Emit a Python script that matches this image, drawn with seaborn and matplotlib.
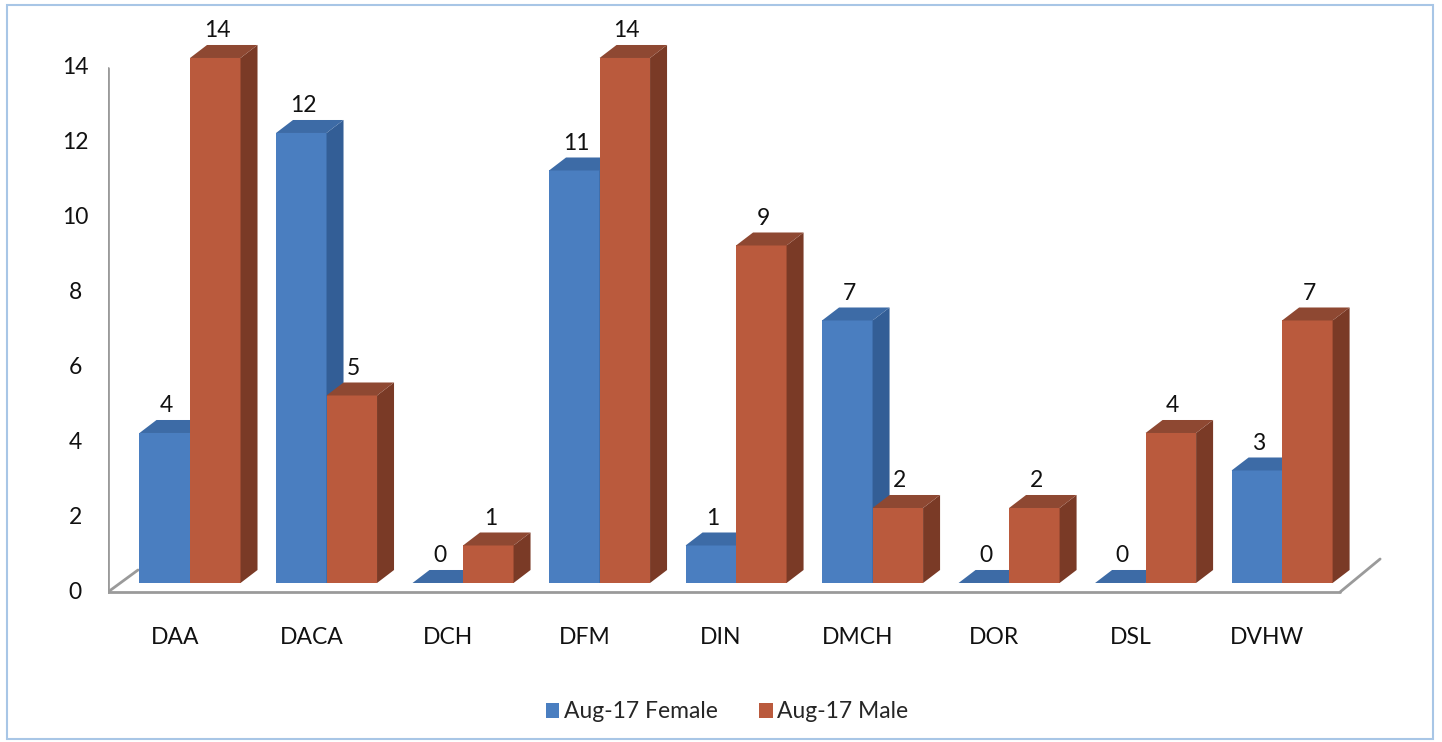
import pandas as pd
import matplotlib.pyplot as plt
import seaborn as sns
from matplotlib.patches import Polygon, Rectangle

# Data
categories = ["DAA", "DACA", "DCH", "DFM", "DIN", "DMCH", "DOR", "DSL", "DVHW"]
female = [4, 12, 0, 11, 1, 7, 0, 0, 3]
male = [14, 5, 1, 14, 9, 2, 2, 4, 7]
series = ["Aug-17 Female", "Aug-17 Male"]
y_ticks = [0, 2, 4, 6, 8, 10, 12, 14]

df = pd.DataFrame({
    "category": categories * 2,
    "value": female + male,
    "series": [series[0]] * len(categories) + [series[1]] * len(categories),
})

# Colours for the faces of the 3D-style bars
front = {series[0]: "#4a7ec0", series[1]: "#ba5a3d"}
side = {series[0]: "#335e96", series[1]: "#7a3a26"}
top = {series[0]: "#3d6ba6", series[1]: "#8e4832"}

sns.set_theme(style="white")
plt.rcParams["font.family"] = ["Lato", "DejaVu Sans"]

fig = plt.figure(figsize=(14.42, 7.42), dpi=100)
ax = fig.add_axes([0.0749, 0.1914, 0.896, 0.7682])
sns.barplot(
    data=df,
    x="category",
    y="value",
    hue="series",
    order=categories,
    hue_order=series,
    palette=front,
    saturation=1,
    width=0.74,
    linewidth=0,
    errorbar=None,
    ax=ax
)
ax.set_xlim(-0.6007, 8.864)
ax.set_ylim(-0.453, 14.747)
handles, labels = ax.get_legend_handles_labels()
ax.get_legend().remove()
ax.set_axis_off()


def px(dx, dy):
    # convert a pixel offset into a data offset
    x0, y0 = ax.transData.inverted().transform((0, 0))
    x1, y1 = ax.transData.inverted().transform((dx, dy))
    return x1 - x0, y1 - y0


ddx, ddy = px(17, 13)

# Depth faces and value labels
for k, (container, name) in enumerate(zip(ax.containers, series)):
    z = 2 + 0.2 * k
    for bar in container:
        x, w, h = bar.get_x(), bar.get_width(), bar.get_height()
        bar.set_zorder(z)
        ax.add_patch(Polygon(
            [(x + w, 0), (x + w, h), (x + w + ddx, h + ddy), (x + w + ddx, ddy)],
            closed=True, color=side[name], lw=0, zorder=z + 0.1))
        ax.add_patch(Polygon(
            [(x, h), (x + w, h), (x + w + ddx, h + ddy), (x + ddx, h + ddy)],
            closed=True, color=top[name], lw=0, zorder=z + 0.1))
        ax.annotate(f"{h:.0f}", xy=(x + w / 2, h), xytext=(2, 27),
                    textcoords="offset pixels", ha="center", va="center",
                    fontsize=16.5, color="#111111", zorder=5)

# Walls and floor
fx, fy = px(0, -9)
x_left = ax.get_xlim()[0]
x_right = len(categories) - 1 + 0.425
wall_top = 14 + px(0, -10)[1]
line_kw = dict(color="#9a9a9a", lw=2, zorder=1, solid_capstyle="round")
ax.plot([x_left, x_left], [fy, wall_top], **line_kw)
ax.plot([x_left, x_right], [fy, fy], **line_kw)
lx, ly = px(30, 22)
ax.plot([x_left, x_left + lx], [fy, fy + ly], **line_kw)
rx, ry = px(40, 33)
ax.plot([x_right, x_right + rx], [fy, fy + ry], **line_kw)

# Axis labels (offset like the 3D chart)
for v in y_ticks:
    ax.annotate(str(v), xy=(0, v), xycoords=("axes fraction", "data"),
                xytext=(-33, -10), textcoords="offset pixels",
                ha="center", va="center", fontsize=16.5, color="#111111")
for i, c in enumerate(categories):
    ax.annotate(c, xy=(i, 0), xytext=(-15, -55), textcoords="offset pixels",
                ha="center", va="center", fontsize=16.5, color="#111111")

fig.legend(
    handles, labels,
    loc="center",
    bbox_to_anchor=(727 / 1442, 1 - 712 / 742),
    ncol=2,
    frameon=False,
    handlelength=0.6,
    handleheight=0.6,
    handletextpad=0.2,
    columnspacing=1.8,
    fontsize=16.5
)

fig.add_artist(Rectangle((7 / 1442, 3 / 742), 1426 / 1442, 734 / 742,
                         transform=fig.transFigure, fill=False,
                         ec="#a8c6e6", lw=1.5))

fig.savefig("out.png", dpi=100, facecolor="white")
